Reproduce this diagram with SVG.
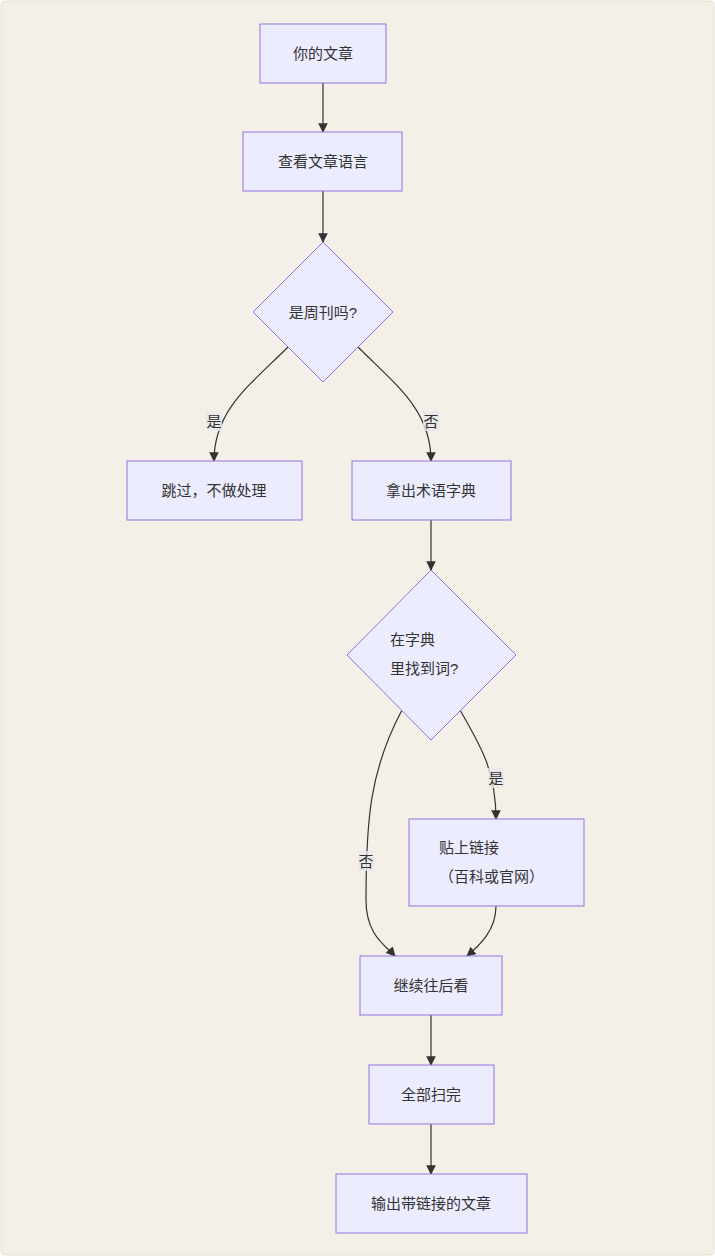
<svg xmlns="http://www.w3.org/2000/svg" width="715" height="1256" viewBox="0 0 715 1256">
<style>
.n{fill:#ECECFF;stroke:#9370DB;stroke-width:1}
text{font-family:"Liberation Sans","Noto Sans CJK SC",sans-serif;font-size:15px;fill:#333}
.c{text-anchor:middle;dominant-baseline:central}
.e{fill:none;stroke:#333;stroke-width:1.2;marker-end:url(#a)}
.lb{fill:#e8e8e8;opacity:0.8}
</style>
<defs><marker id="a" viewBox="0 0 10 10" refX="9" refY="5" markerWidth="8" markerHeight="8" orient="auto"><path d="M0,0L10,5L0,10z" fill="#333"/></marker></defs>
<rect x="1" y="1" width="713" height="1254" rx="4" fill="#f4f0e8" stroke="#e6e0d4"/>
<g id="edges">
<path class="e" d="M323,83V132"/>
<path class="e" d="M323,191V242"/>
<path class="e" d="M288,347C250,385 214,410 214,461"/>
<path class="e" d="M358,347C396,385 431,410 431,461"/>
<path class="e" d="M431,520V570"/>
<path class="e" d="M460,710C480,745 496,770 496,819"/>
<path class="e" d="M402,710C370,770 366,820 366,900C366,935 385,945 395,956"/>
<path class="e" d="M496,906C496,930 480,945 467,956"/>
<path class="e" d="M431,1015V1065"/>
<path class="e" d="M431,1124V1174"/>
<rect class="lb" x="206" y="411" width="16" height="20"/><text class="c" x="214" y="421">是</text>
<rect class="lb" x="423" y="411" width="16" height="20"/><text class="c" x="431" y="421">否</text>
<rect class="lb" x="488" y="768" width="16" height="20"/><text class="c" x="496" y="778">是</text>
<rect class="lb" x="358" y="851" width="16" height="20"/><text class="c" x="366" y="861">否</text>
</g>
<g id="n1"><rect class="n" x="260" y="24" width="126" height="59"/><text class="c" x="323" y="53">你的文章</text></g>
<g id="n2"><rect class="n" x="243" y="132" width="159" height="59"/><text class="c" x="323" y="161">查看文章语言</text></g>
<g id="n3"><polygon class="n" points="323,242 393,312 323,382 253,312"/><text class="c" x="323" y="312">是周刊吗?</text></g>
<g id="n4"><rect class="n" x="127" y="461" width="175" height="59"/><text class="c" x="214" y="490">跳过，不做处理</text></g>
<g id="n5"><rect class="n" x="352" y="461" width="159" height="59"/><text class="c" x="431" y="490">拿出术语字典</text></g>
<g id="n6"><polygon class="n" points="431,570 516,655 431,740 347,655"/><text x="390" y="645">在字典</text><text x="390" y="674">里找到词?</text></g>
<g id="n7"><rect class="n" x="409" y="819" width="175" height="87"/><text x="439" y="853">贴上链接</text><text x="439" y="882">（百科或官网）</text></g>
<g id="n8"><rect class="n" x="360" y="956" width="142" height="59"/><text class="c" x="431" y="985">继续往后看</text></g>
<g id="n9"><rect class="n" x="369" y="1065" width="125" height="59"/><text class="c" x="431" y="1094">全部扫完</text></g>
<g id="n10"><rect class="n" x="336" y="1174" width="191" height="59"/><text class="c" x="431" y="1203">输出带链接的文章</text></g>
</svg>
